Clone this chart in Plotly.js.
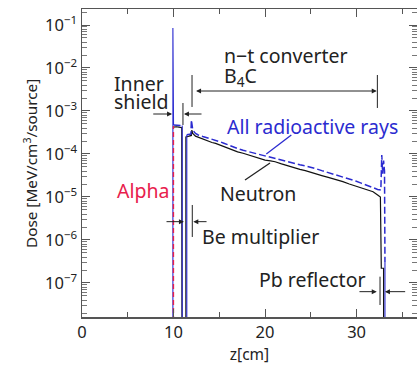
<!DOCTYPE html>
<html><head><meta charset="utf-8">
<script src="https://cdn.plot.ly/plotly-3.0.1.min.js"></script>
<style>html,body{margin:0;padding:0;background:#fff}#chart{width:417px;height:367px}</style>
</head><body><div id="chart"></div>
<script>
// Neutron dose (black solid)
const neutronZ = [10.0,10.3,10.6,10.9,10.93,null,11.35,11.35,11.7,11.95,12.0,12.1,12.4,12.7,13.2,13.7,14.2,14.6,15.0,15.5,16.0,16.4,17.0,17.6,18.2,18.8,19.4,20.0,20.6,21.1,21.8,22.5,23.1,23.8,24.4,24.8,25.5,26.2,26.9,27.6,28.2,28.5,29.2,29.9,30.5,31.1,31.8,32.3,32.6,32.7,32.95,32.95];
const neutronDose = [4.2e-4,4.3e-4,4.2e-4,4.1e-4,1e-9,null,1e-9,2.5e-4,2.6e-4,2.7e-4,3.6e-4,3.0e-4,2.6e-4,2.44e-4,2.2e-4,2.0e-4,1.85e-4,1.77e-4,1.63e-4,1.5e-4,1.36e-4,1.24e-4,1.12e-4,1.04e-4,9.5e-5,8.6e-5,7.9e-5,7.2e-5,6.9e-5,6.6e-5,5.9e-5,5.3e-5,4.8e-5,4.4e-5,4.1e-5,3.9e-5,3.5e-5,3.15e-5,2.85e-5,2.6e-5,2.35e-5,2.27e-5,2.0e-5,1.8e-5,1.62e-5,1.48e-5,1.33e-5,1.11e-5,1.0e-5,2.2e-7,2.2e-7,1e-9];
// All radioactive rays (blue dashed)
const allZ = [10.0,10.45,10.9,null,11.45,11.9,11.95,12.1,12.4,12.7,13.2,13.7,14.2,14.6,15.0,15.5,16.0,16.4,17.0,17.6,18.2,18.8,19.4,20.0,20.6,21.1,21.8,22.5,23.1,23.8,24.4,24.8,25.5,26.2,26.9,27.6,28.2,28.5,29.2,29.9,30.5,31.1,31.8,32.3,32.65,32.75,32.85,32.95,33.05,33.1];
const allDose = [4.7e-4,4.7e-4,4.6e-4,null,2.8e-4,2.9e-4,6.2e-4,3.6e-4,3.0e-4,2.77e-4,2.55e-4,2.38e-4,2.22e-4,2.12e-4,1.95e-4,1.78e-4,1.6e-4,1.48e-4,1.34e-4,1.22e-4,1.13e-4,1.03e-4,9.6e-5,9.0e-5,8.4e-5,7.9e-5,7.2e-5,6.6e-5,6.1e-5,5.6e-5,5.3e-5,5.1e-5,4.6e-5,4.1e-5,3.7e-5,3.35e-5,3.1e-5,2.97e-5,2.65e-5,2.35e-5,2.1e-5,1.85e-5,1.6e-5,1.5e-5,1.45e-5,9.5e-5,3.5e-5,7e-5,4e-5,3e-7];
// All radioactive rays, steep edges (blue solid)
const edgeZ = [9.93,9.93,10.0,null,10.95,10.95,null,11.45,11.45,null,33.1,33.1];
const edgeDose = [1e-9,8.5e-2,4.7e-4,null,4.6e-4,1e-9,null,1e-9,2.8e-4,null,3e-7,1e-9];
// Alpha (red dashed)
const alphaZ = [9.99,9.99];
const alphaDose = [1e-9,4.5e-4];

const yTickVals = [1e-7,1e-6,1e-5,1e-4,1e-3,1e-2,1e-1];
const yTickText = ['10<sup>−7</sup>','10<sup>−6</sup>','10<sup>−5</sup>','10<sup>−4</sup>','10<sup>−3</sup>','10<sup>−2</sup>','10<sup>−1</sup>'];

const BLUE = '#2b2bd0', RED = '#e8204c', INK = '#222';
const FONT = 'Noto Sans, Liberation Sans, Arial, sans-serif';

const traces = [
  {x: neutronZ, y: neutronDose, mode:'lines', line:{color:'#111', width:1.2}, connectgaps:false},
  {x: edgeZ, y: edgeDose, mode:'lines', line:{color:BLUE, width:1.1}, connectgaps:false},
  {x: allZ, y: allDose, mode:'lines', line:{color:BLUE, width:1.5, dash:'7px,3px'}, connectgaps:false},
  {x: alphaZ, y: alphaDose, mode:'lines', line:{color:RED, width:1.4, dash:'5px,3px'}, connectgaps:false}
];

function txt(t,x,ly,color,size){return {text:t,x:x,y:ly,xref:'x',yref:'y',xanchor:'left',yanchor:'middle',showarrow:false,font:{family:FONT,size:size||19.5,color:color||INK}};}
function arr(hx,tx,ly,both){return {text:'',x:hx,y:ly,ax:tx,ay:ly,xref:'x',yref:'y',axref:'x',ayref:'y',showarrow:true,arrowhead:2,arrowsize:1,arrowwidth:1,arrowcolor:INK,standoff:0,startstandoff:0,arrowside: both?'end+start':'end',startarrowhead:2,startarrowsize:1};}
// shapes on a log axis take data values
function bar(x,l0,l1){return {type:'line',xref:'x',yref:'y',x0:x,x1:x,y0:Math.pow(10,l0),y1:Math.pow(10,l1),line:{color:INK,width:1}};}
function seg(x0,l0,x1,l1,c){return {type:'line',xref:'x',yref:'y',x0:x0,x1:x1,y0:Math.pow(10,l0),y1:Math.pow(10,l1),line:{color:c,width:1.3}};}

const annotations = [
  txt('Inner',3.28,-2.36), txt('shield',3.28,-2.78),
  txt('n−t converter',15.3,-1.70), txt('B<sub>4</sub>C',15.3,-2.20),
  txt('All radioactive rays',15.62,-3.35,BLUE),
  txt('Neutron',14.86,-4.91),
  txt('Alpha',3.61,-4.86,RED),
  txt('Be multiplier',12.84,-5.93),
  txt('Pb reflector',19.09,-6.93),
  arr(9.84,7.62,-3.07), arr(11.14,13.22,-3.07),
  arr(32.2,12.3,-2.535,true),
  arr(11.14,9.07,-5.574), arr(12.16,13.77,-5.574),
  arr(32.2,30.15,-7.202), arr(33.1,35.47,-7.202),
  {text:'Dose [MeV/cm<sup>3</sup>/source]', xref:'paper', yref:'paper', x:(30-82)/335, y:(317-164)/308, xanchor:'center', yanchor:'middle', textangle:-90, showarrow:false, font:{family:FONT,size:15.3,color:INK}}
];
const shapes = [
  bar(11.03,-2.814,-3.326),
  bar(12.02,-2.163,-2.907), bar(32.27,-2.163,-2.93),
  bar(12.05,-5.186,-5.93),
  bar(32.56,-6.853,-7.512),
  seg(20.14,-4.0,22.87,-3.558,BLUE),
  seg(17.81,-4.605,20.54,-4.209,INK)
];

const layout = {
  width:417, height:367,
  margin:{l:82, r:0, t:9, b:50},
  paper_bgcolor:'#fff', plot_bgcolor:'#fff',
  showlegend:false,
  font:{family:FONT, color:INK},
  xaxis:{range:[0,36.6], dtick:10, tick0:0, ticks:'inside', ticklen:8, tickwidth:1, tickcolor:'#555',
    showline:true, linecolor:'#555', linewidth:1.5, mirror:'ticks', showgrid:false, zeroline:false,
    tickfont:{family:FONT,size:16.5,color:INK},
    minor:{dtick:5, ticks:'inside', ticklen:5, tickcolor:'#555', showgrid:false},
    title:{text:'z[cm]', font:{family:FONT,size:15.5,color:INK}, standoff:6}},
  yaxis:{type:'log', range:[-7.791,-0.628], tickvals:yTickVals, ticktext:yTickText, ticks:'inside', ticklen:8, tickwidth:1, tickcolor:'#555',
    showline:true, linecolor:'#555', linewidth:1.5, mirror:'ticks', showgrid:false, zeroline:false,
    tickfont:{family:FONT,size:16.5,color:INK},
    minor:{dtick:'D1', ticks:'inside', ticklen:5, tickcolor:'#777', showgrid:false}},
  annotations:annotations, shapes:shapes
};
Plotly.newPlot('chart', traces, layout, {staticPlot:true, displayModeBar:false});
</script></body></html>
